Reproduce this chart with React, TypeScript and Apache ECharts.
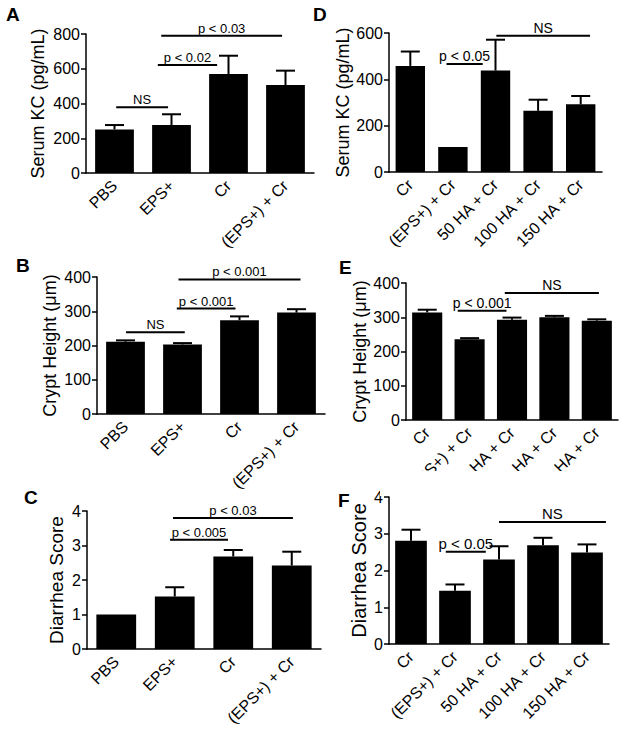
import React, { useEffect, useRef } from "react";
import * as echarts from "echarts";

// ---------- categories ----------
const catsLeft = ["PBS", "EPS+", "Cr", "(EPS+) + Cr"];
const catsRight = ["Cr", "(EPS+) + Cr", "50 HA + Cr", "100 HA + Cr", "150 HA + Cr"];

// ---------- values (bar means) and upper error-bar ends ----------
const kcA = [251, 276, 570, 506];
const kcAErr = [276, 338, 675, 589];
const cryptB = [211, 203, 274, 296];
const cryptBErr = [215, 207, 285, 306];
const diarC = [1.0, 1.52, 2.68, 2.42];
const diarCErr = [1.0, 1.79, 2.87, 2.82];
const kcD = [458, 108, 438, 264, 292];
const kcDErr = [520, 108, 571, 312, 328];
const cryptE = [314, 236, 293, 300, 290];
const cryptEErr = [322, 239, 299, 304, 294];
const diarF = [2.81, 1.45, 2.3, 2.69, 2.49];
const diarFErr = [3.11, 1.62, 2.66, 2.89, 2.71];

// ---------- significance brackets: [from cat, to cat, y value, label] ----------
const sigA: [number, number, number, string][] = [
  [0.03, 0.94, 378, "NS"],
  [0.76, 1.8, 621, "p < 0.02"],
  [0.82, 2.94, 790, "p < 0.03"],
];
const sigB: [number, number, number, string][] = [
  [0.01, 1.04, 239, "NS"],
  [0.9, 1.93, 308, "p < 0.001"],
  [0.93, 3.07, 393, "p < 0.001"],
];
const sigC: [number, number, number, string][] = [
  [0.92, 1.91, 3.17, "p < 0.005"],
  [0.97, 3.02, 3.8, "p < 0.03"],
];
const sigD: [number, number, number, string][] = [
  [0.85, 1.7, 466, "p < 0.05"],
  [2.02, 4.22, 588, "NS"],
];
const sigE: [number, number, number, string][] = [
  [0.72, 1.87, 319, "p < 0.001"],
  [1.83, 4.05, 371, "NS"],
];
const sigF: [number, number, number, string][] = [
  [0.79, 1.7, 2.51, "p < 0.05"],
  [2.0, 4.43, 3.32, "NS"],
];

const FONT = "'Liberation Sans', Arial, sans-serif";

type Panel = {
  grid: { left: number; top: number; width: number; height: number };
  cats: string[];
  vals: number[];
  errs: number[];
  sig: [number, number, number, string][];
  yMax: number;
  yInt: number;
  yName: string;
  nameGap: number;
  nameSize: number;
  tickSize: number;
  catSize: number;
  sigSize: number;
  barWidth: string;
};

const panels: Panel[] = [
  { grid: { left: 86, top: 34, width: 228, height: 139 }, cats: catsLeft, vals: kcA, errs: kcAErr, sig: sigA, yMax: 800, yInt: 200, yName: "Serum KC (pg/mL)", nameGap: 39, nameSize: 18, tickSize: 16, catSize: 16, sigSize: 13, barWidth: "68%" },
  { grid: { left: 97, top: 277, width: 228, height: 137 }, cats: catsLeft, vals: cryptB, errs: cryptBErr, sig: sigB, yMax: 400, yInt: 100, yName: "Crypt Height (\u03bcm)", nameGap: 38, nameSize: 18, tickSize: 16, catSize: 16, sigSize: 13, barWidth: "68%" },
  { grid: { left: 87, top: 511, width: 234, height: 138 }, cats: catsLeft, vals: diarC, errs: diarCErr, sig: sigC, yMax: 4, yInt: 1, yName: "Diarrhea Score", nameGap: 21, nameSize: 19, tickSize: 16, catSize: 16, sigSize: 13, barWidth: "68%" },
  { grid: { left: 389, top: 33, width: 213, height: 139 }, cats: catsRight, vals: kcD, errs: kcDErr, sig: sigD, yMax: 600, yInt: 200, yName: "Serum KC (pg/mL)", nameGap: 32, nameSize: 18, tickSize: 16, catSize: 16, sigSize: 14, barWidth: "69%" },
  { grid: { left: 406, top: 283, width: 212, height: 137 }, cats: catsRight, vals: cryptE, errs: cryptEErr, sig: sigE, yMax: 400, yInt: 100, yName: "Crypt Height (\u03bcm)", nameGap: 36, nameSize: 18, tickSize: 16, catSize: 16, sigSize: 14, barWidth: "71%" },
  { grid: { left: 389, top: 497, width: 220, height: 147 }, cats: catsRight, vals: diarF, errs: diarFErr, sig: sigF, yMax: 4, yInt: 1, yName: "Diarrhea Score", nameGap: 20, nameSize: 20, tickSize: 16, catSize: 16, sigSize: 15, barWidth: "72%" },
];

const letters: [string, number, number][] = [
  ["A", 6, 5],
  ["B", 16, 256],
  ["C", 24, 488],
  ["D", 313, 5],
  ["E", 339, 258],
  ["F", 338, 491],
];

function buildOption() {
  const grid: any[] = [];
  const xAxis: any[] = [];
  const yAxis: any[] = [];
  const series: any[] = [];

  panels.forEach((p, i) => {
    grid.push({ ...p.grid });
    xAxis.push({
      type: "category",
      gridIndex: i,
      data: p.cats,
      axisLine: { lineStyle: { color: "#000", width: 1.5 } },
      axisTick: { alignWithLabel: true, length: 5, lineStyle: { color: "#000", width: 1.5 } },
      axisLabel: { rotate: 45, interval: 0, color: "#000", fontSize: p.catSize, fontFamily: FONT, margin: 10 },
      splitLine: { show: false },
    });
    yAxis.push({
      type: "value",
      gridIndex: i,
      min: 0,
      max: p.yMax,
      interval: p.yInt,
      name: p.yName,
      nameLocation: "middle",
      nameGap: p.nameGap,
      nameTextStyle: { color: "#000", fontSize: p.nameSize, fontFamily: FONT },
      axisLine: { show: true, lineStyle: { color: "#000", width: 1.5 } },
      axisTick: { show: true, length: 5, lineStyle: { color: "#000", width: 1.5 } },
      axisLabel: { color: "#000", fontSize: p.tickSize, fontFamily: FONT, margin: 6 },
      splitLine: { show: false },
    });
    series.push({
      type: "bar",
      xAxisIndex: i,
      yAxisIndex: i,
      data: p.vals,
      barWidth: p.barWidth,
      itemStyle: { color: "#000" },
      z: 2,
    });
    series.push({
      type: "custom",
      xAxisIndex: i,
      yAxisIndex: i,
      z: 3,
      data: p.vals.map((v, k) => [k, v, p.errs[k]]),
      renderItem: (params: any, api: any) => {
        const k = api.value(0);
        const v = api.value(1);
        const e = api.value(2);
        if (e <= v) return { type: "group", children: [] };
        const top = api.coord([k, e]);
        const base = api.coord([k, v]);
        const hw = 9.5;
        return {
          type: "group",
          children: [
            { type: "line", shape: { x1: top[0], y1: base[1], x2: top[0], y2: top[1] }, style: { stroke: "#000", lineWidth: 2 } },
            { type: "line", shape: { x1: top[0] - hw, y1: top[1], x2: top[0] + hw, y2: top[1] }, style: { stroke: "#000", lineWidth: 2 } },
          ],
        };
      },
    });
    const sig = p.sig;
    series.push({
      type: "custom",
      xAxisIndex: i,
      yAxisIndex: i,
      z: 4,
      data: sig.map((s) => [0, s[2]]),
      renderItem: (params: any, api: any) => {
        const s = sig[params.dataIndex];
        const c0 = api.coord([0, s[2]]);
        const band = api.size([1, 0])[0];
        const x1 = c0[0] + s[0] * band;
        const x2 = c0[0] + s[1] * band;
        const y = c0[1];
        return {
          type: "group",
          children: [
            { type: "line", shape: { x1, y1: y, x2, y2: y }, style: { stroke: "#000", lineWidth: 2 } },
            {
              type: "text",
              x: (x1 + x2) / 2,
              y: y - 1,
              style: { text: s[3], fill: "#000", fontSize: p.sigSize, fontFamily: FONT, align: "center", verticalAlign: "bottom" },
            },
          ],
        };
      },
    });
  });

  const graphic: any[] = [
    { type: "rect", left: 380, top: 471, shape: { width: 244, height: 25 }, style: { fill: "#fff" }, z: 100 },
    ...letters.map(([t, x, y]) => ({
      type: "text",
      left: x,
      top: y,
      z: 101,
      style: { text: t, fill: "#000", fontSize: 19, fontWeight: "bold", fontFamily: FONT },
    })),
  ];

  return { animation: false, backgroundColor: "#fff", grid, xAxis, yAxis, series, graphic };
}

export default function App() {
  const ref = useRef<HTMLDivElement>(null);
  useEffect(() => {
    if (!ref.current) return;
    const chart = echarts.init(ref.current, undefined, { renderer: "svg" });
    chart.setOption(buildOption() as any);
    return () => chart.dispose();
  }, []);
  return <div ref={ref} style={{ position: "fixed", left: 0, top: 0, width: 624, height: 732, background: "#fff" }} />;
}
